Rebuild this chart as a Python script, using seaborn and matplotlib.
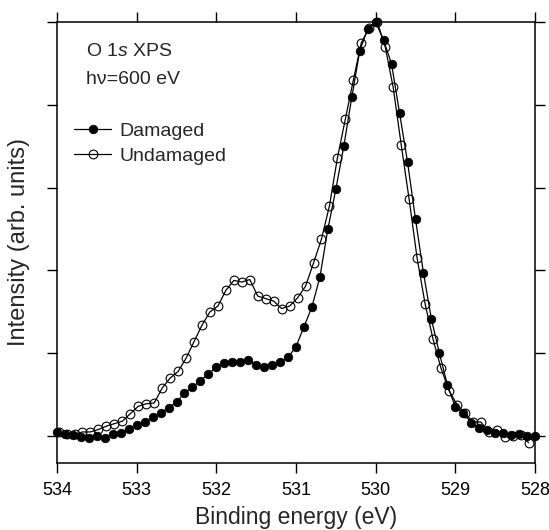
import matplotlib
matplotlib.use("Agg")
import matplotlib.pyplot as plt
import seaborn as sns
import pandas as pd

# Damaged (filled) series
energy_damaged = [534.0, 533.9, 533.8, 533.7, 533.6, 533.5, 533.4, 533.3, 533.2, 533.1,
                  533.0, 532.9, 532.8, 532.7, 532.6, 532.5, 532.4, 532.3, 532.2, 532.1,
                  532.0, 531.9, 531.8, 531.7, 531.6, 531.5, 531.4, 531.3, 531.2, 531.1,
                  531.0, 530.9, 530.8, 530.7, 530.6, 530.5, 530.4, 530.3, 530.2, 530.1,
                  530.0, 529.9, 529.8, 529.7, 529.6, 529.5, 529.4, 529.3, 529.2, 529.1,
                  529.0, 528.9, 528.8, 528.7, 528.6, 528.5, 528.4, 528.3, 528.2, 528.1,
                  528.0]
intensity_damaged = [0.045, 0.03, 0.01, -0.01, -0.02, 0.0, -0.02, 0.03, 0.04, 0.09,
                     0.13, 0.17, 0.23, 0.28, 0.34, 0.41, 0.52, 0.59, 0.67, 0.75,
                     0.83, 0.88, 0.90, 0.90, 0.92, 0.86, 0.84, 0.86, 0.89, 0.95,
                     1.08, 1.32, 1.56, 1.92, 2.50, 2.98, 3.50, 4.09, 4.65, 4.92,
                     5.00, 4.78, 4.49, 3.90, 3.31, 2.62, 1.97, 1.41, 1.00, 0.62,
                     0.35, 0.28, 0.16, 0.10, 0.07, 0.04, 0.04, 0.01, 0.02, 0.00,
                     0.00]

# Undamaged (open) series
energy_undamaged = [533.98, 533.88, 533.78, 533.68, 533.58, 533.48, 533.38, 533.28, 533.18, 533.08,
                    532.98, 532.88, 532.78, 532.68, 532.58, 532.48, 532.38, 532.28, 532.18, 532.08,
                    531.98, 531.88, 531.78, 531.68, 531.58, 531.48, 531.38, 531.28, 531.18, 531.08,
                    530.98, 530.88, 530.78, 530.68, 530.58, 530.48, 530.38, 530.28, 530.18, 530.08,
                    529.98, 529.88, 529.78, 529.68, 529.58, 529.48, 529.38, 529.28, 529.18, 529.08,
                    528.98, 528.88, 528.78, 528.68, 528.58, 528.48, 528.38, 528.28, 528.18, 528.08]
intensity_undamaged = [0.045, 0.03, 0.02, 0.05, 0.05, 0.08, 0.12, 0.15, 0.18, 0.27,
                       0.36, 0.39, 0.40, 0.58, 0.70, 0.78, 0.94, 1.14, 1.34, 1.50,
                       1.57, 1.76, 1.88, 1.86, 1.89, 1.69, 1.66, 1.63, 1.54, 1.57,
                       1.67, 1.81, 2.09, 2.38, 2.78, 3.36, 3.83, 4.30, 4.75, 4.93,
                       5.00, 4.70, 4.21, 3.52, 2.86, 2.15, 1.60, 1.17, 0.82, 0.55,
                       0.38, 0.28, 0.17, 0.17, 0.05, 0.07, -0.01, 0.00, 0.01, -0.08]

x_ticks = [534, 533, 532, 531, 530, 529, 528]
y_ticks = [0, 1, 2, 3, 4, 5]

sns.set_theme(style="ticks")
plt.rcParams['font.family'] = ['Liberation Sans', 'DejaVu Sans']
plt.rcParams['mathtext.fontset'] = 'custom'
plt.rcParams['mathtext.rm'] = 'Liberation Sans'
plt.rcParams['mathtext.it'] = 'Liberation Sans:italic'

df_d = pd.DataFrame({"E": energy_damaged, "I": intensity_damaged})
df_u = pd.DataFrame({"E": energy_undamaged, "I": intensity_undamaged})

fig = plt.figure(figsize=(5.49, 5.30), dpi=100)
ax = fig.add_axes([57/549, 67/530, 478/549, 441/530])

sns.lineplot(data=df_u, x="E", y="I", sort=False, estimator=None, ax=ax,
             color="black", lw=0.9, marker="o", markersize=6.3,
             markerfacecolor="none", markeredgecolor="black", markeredgewidth=0.8,
             label="Undamaged", clip_on=False, zorder=3)
sns.lineplot(data=df_d, x="E", y="I", sort=False, estimator=None, ax=ax,
             color="black", lw=0.9, marker="o", markersize=6.2,
             markerfacecolor="black", markeredgecolor="black", markeredgewidth=0.5,
             label="Damaged", clip_on=False, zorder=4)

ax.set_xlim(534, 528)
ax.set_ylim(-0.325, 5.0)
ax.set_xticks(x_ticks)
ax.set_xticklabels([str(t) for t in x_ticks])
ax.set_yticks(y_ticks)
ax.tick_params(axis="both", which="major", direction="out", length=7.5, width=1.0,
               colors="black", labelsize=13, top=True, right=True,
               labelleft=False, labelright=False, labeltop=False, pad=6)
for s in ax.spines.values():
    s.set_visible(True)
    s.set_linewidth(1.1)
    s.set_color("black")

ax.set_xlabel("Binding energy (eV)", fontsize=16.5, labelpad=5)
ax.set_ylabel("Intensity (arb. units)", fontsize=17, labelpad=12)

ax.text(0.06, 0.932, r"O 1$\it{s}$ XPS", transform=ax.transAxes, fontsize=14,
        va="center", ha="left")
ax.text(0.06, 0.870, "h\u03bd=600 eV", transform=ax.transAxes, fontsize=14,
        va="center", ha="left")

handles, labels = ax.get_legend_handles_labels()
order = [labels.index("Damaged"), labels.index("Undamaged")]
ax.legend([handles[i] for i in order], [labels[i] for i in order],
          loc="upper left", bbox_to_anchor=(0.02, 0.79), frameon=False,
          fontsize=14, handlelength=1.9, handletextpad=0.4, labelspacing=0.38,
          borderaxespad=0.0)

fig.savefig("out.png", dpi=100)
